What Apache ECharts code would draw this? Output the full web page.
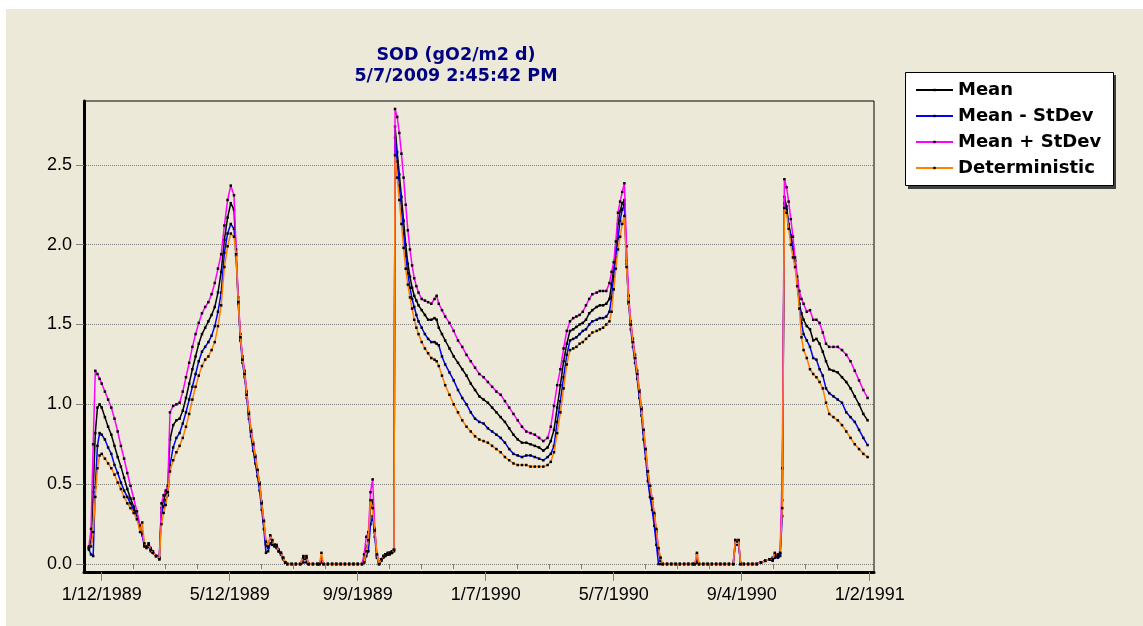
<!DOCTYPE html>
<html><head><meta charset="utf-8">
<script src="https://cdn.jsdelivr.net/npm/echarts@6/dist/echarts.min.js"></script>
<style>html,body{margin:0;padding:0;background:#fff}#c{width:1143px;height:626px}</style>
</head><body><div id="c"></div>
<script>
// Day offsets from 1/12/1989
const days = [
-12,-10,-8,-6,-4,-2,0,3,6,9,
12,15,18,21,24,27,30,33,36,38,
40,42,44,46,48,51,54,56,58,60,
62,64,67,70,73,76,79,82,85,88,
91,94,97,100,103,106,109,112,115,118,
121,124,126,128,130,132,134,136,138,140,
142,144,146,148,150,152,154,156,158,160,
162,164,166,168,170,172,174,178,182,186,
189,192,194,198,202,204,206,208,212,216,
220,224,228,232,236,240,244,246,248,250,
252,254,256,258,260,262,264,266,268,270,
272,274,275,277,279,281,283,285,287,289,
291,293,295,297,300,303,306,309,312,314,
316,319,322,326,330,334,338,342,346,350,
354,358,362,366,370,374,378,382,386,390,
394,398,402,406,410,414,418,421,424,427,
430,433,436,439,442,445,448,451,454,457,
460,464,467,470,473,476,478,480,482,484,
486,488,490,492,494,496,498,500,502,504,
506,508,510,512,514,516,518,520,522,524,
526,530,534,538,542,546,550,554,556,558,
560,564,568,572,576,580,584,588,592,594,
597,599,602,606,610,614,618,622,626,629,
631,634,636,638,640,642,644,646,648,650,
652,654,656,658,661,664,667,670,673,676,
679,682,686,690,694,698,702,706,710,714,
718];
const meanVals = [
0.10,0.14,0.45,0.82,0.98,1.00,0.98,0.92,0.86,0.81,
0.74,0.67,0.61,0.54,0.47,0.41,0.36,0.30,0.24,0.20,
0.12,0.11,0.12,0.09,0.07,0.05,0.04,0.35,0.40,0.44,
0.48,0.78,0.87,0.90,0.91,0.96,1.04,1.13,1.22,1.30,
1.38,1.44,1.48,1.52,1.56,1.61,1.70,1.83,2.03,2.17,
2.26,2.22,1.95,1.65,1.42,1.28,1.19,1.06,0.93,0.82,
0.74,0.66,0.58,0.50,0.38,0.26,0.12,0.10,0.17,0.14,
0.12,0.11,0.08,0.07,0.04,0.01,0,0,0,0,
0.03,0.03,0,0,0,0,0.03,0,0,0,
0,0,0,0,0,0,0,0.02,0.10,0.14,
0.36,0.40,0.20,0.05,0.00,0.02,0.05,0.06,0.06,0.07,
0.07,0.09,2.74,2.58,2.44,2.30,2.15,2.00,1.88,1.80,
1.73,1.68,1.65,1.62,1.59,1.56,1.53,1.53,1.54,1.53,
1.48,1.44,1.40,1.35,1.30,1.26,1.22,1.18,1.13,1.09,
1.05,1.03,1.01,0.98,0.95,0.92,0.89,0.85,0.81,0.78,
0.76,0.76,0.75,0.74,0.73,0.71,0.73,0.77,0.84,0.98,
1.12,1.27,1.38,1.46,1.47,1.485,1.50,1.51,1.53,1.57,
1.59,1.61,1.62,1.62,1.63,1.66,1.75,1.85,1.98,2.13,
2.21,2.26,2.28,1.90,1.65,1.50,1.39,1.29,1.19,1.07,
0.96,0.82,0.70,0.56,0.47,0.39,0.30,0.20,0.08,0.02,
0,0,0,0,0,0,0,0,0,0.03,
0,0,0,0,0,0,0,0,0,0.14,
0.14,0,0,0,0,0,0.01,0.02,0.03,0.03,
0.05,0.05,0.06,0.40,2.30,2.24,2.13,2.06,1.99,1.90,
1.78,1.63,1.57,1.53,1.49,1.47,1.40,1.41,1.38,1.33,
1.27,1.22,1.21,1.20,1.17,1.14,1.10,1.05,1.00,0.94,
0.90];
const minusVals = [
0.09,0.06,0.05,0.48,0.74,0.82,0.81,0.78,0.73,0.69,
0.62,0.57,0.51,0.46,0.42,0.38,0.34,0.30,0.23,0.18,
0.11,0.10,0.11,0.08,0.07,0.05,0.03,0.32,0.36,0.40,
0.43,0.62,0.73,0.79,0.82,0.88,0.95,1.03,1.11,1.19,
1.27,1.33,1.36,1.39,1.43,1.49,1.58,1.70,1.95,2.07,
2.13,2.10,1.93,1.63,1.40,1.26,1.17,1.04,0.91,0.80,
0.71,0.63,0.55,0.46,0.34,0.22,0.07,0.08,0.13,0.12,
0.11,0.10,0.08,0.06,0.03,0.01,0,0,0,0,
0.01,0.01,0,0,0,0,0.01,0,0,0,
0,0,0,0,0,0,0,0.01,0.05,0.08,
0.25,0.30,0.17,0.04,0.00,0.02,0.04,0.05,0.06,0.06,
0.07,0.08,2.67,2.52,2.37,2.22,2.07,1.93,1.82,1.73,
1.66,1.61,1.56,1.52,1.48,1.44,1.41,1.39,1.39,1.38,
1.37,1.30,1.25,1.20,1.15,1.09,1.04,1.00,0.95,0.91,
0.89,0.88,0.85,0.83,0.81,0.79,0.76,0.72,0.69,0.68,
0.67,0.68,0.68,0.67,0.66,0.65,0.67,0.69,0.74,0.89,
1.02,1.17,1.31,1.40,1.41,1.42,1.44,1.46,1.47,1.50,
1.52,1.53,1.54,1.54,1.55,1.58,1.67,1.80,1.92,2.04,
2.15,2.22,2.25,1.88,1.63,1.47,1.36,1.26,1.16,1.04,
0.93,0.78,0.66,0.52,0.42,0.34,0.24,0.12,0.00,0.00,
0,0,0,0,0,0,0,0,0,0.01,
0,0,0,0,0,0,0,0,0,0.12,
0.12,0,0,0,0,0,0.01,0.02,0.03,0.02,
0.04,0.04,0.05,0.30,2.26,2.22,2.12,2.05,1.97,1.90,
1.77,1.63,1.51,1.44,1.40,1.36,1.29,1.28,1.22,1.18,
1.10,1.07,1.05,1.03,1.01,0.95,0.92,0.89,0.84,0.79,
0.745];
const plusVals = [
0.11,0.22,0.75,1.21,1.19,1.16,1.13,1.08,1.03,0.98,
0.91,0.83,0.74,0.66,0.57,0.49,0.41,0.33,0.24,0.19,
0.12,0.11,0.13,0.10,0.08,0.05,0.04,0.38,0.43,0.46,
0.49,0.95,0.99,1.00,1.01,1.08,1.17,1.26,1.36,1.44,
1.51,1.57,1.61,1.64,1.69,1.76,1.85,1.94,2.12,2.28,
2.37,2.31,1.97,1.67,1.44,1.30,1.21,1.08,0.95,0.84,
0.76,0.68,0.59,0.51,0.39,0.27,0.13,0.12,0.17,0.14,
0.12,0.12,0.09,0.07,0.04,0.01,0,0,0,0,
0.05,0.05,0,0,0,0,0.04,0,0,0,
0,0,0,0,0,0,0,0.06,0.17,0.20,
0.45,0.53,0.22,0.06,0.01,0.03,0.05,0.06,0.07,0.07,
0.08,0.09,2.85,2.80,2.70,2.57,2.42,2.25,2.09,1.97,
1.87,1.79,1.74,1.70,1.66,1.65,1.64,1.63,1.66,1.68,
1.63,1.59,1.55,1.51,1.46,1.40,1.36,1.31,1.27,1.23,
1.19,1.17,1.14,1.11,1.08,1.06,1.02,0.98,0.94,0.90,
0.86,0.83,0.82,0.81,0.79,0.77,0.79,0.86,0.99,1.12,
1.22,1.35,1.46,1.52,1.54,1.55,1.56,1.58,1.62,1.66,
1.69,1.70,1.71,1.71,1.71,1.76,1.83,1.89,2.02,2.20,
2.27,2.33,2.385,1.99,1.68,1.52,1.41,1.31,1.21,1.09,
0.98,0.84,0.72,0.58,0.49,0.41,0.31,0.21,0.09,0.02,
0,0,0,0,0,0,0,0,0,0.06,
0,0,0,0,0,0,0,0,0,0.15,
0.15,0,0,0,0,0,0.01,0.02,0.03,0.04,
0.06,0.06,0.07,0.60,2.41,2.36,2.27,2.16,2.05,1.92,
1.80,1.71,1.66,1.63,1.58,1.59,1.53,1.53,1.51,1.45,
1.38,1.36,1.36,1.36,1.34,1.31,1.27,1.21,1.15,1.09,
1.04];
const detVals = [
0.10,0.11,0.20,0.42,0.60,0.68,0.69,0.66,0.63,0.60,
0.56,0.51,0.47,0.42,0.38,0.35,0.32,0.28,0.20,0.26,
0.13,0.11,0.12,0.09,0.07,0.05,0.03,0.25,0.32,0.37,
0.45,0.58,0.65,0.70,0.74,0.79,0.86,0.94,1.03,1.11,
1.18,1.24,1.28,1.30,1.34,1.39,1.49,1.62,1.86,1.99,
2.07,2.05,1.94,1.64,1.42,1.28,1.19,1.06,0.94,0.83,
0.75,0.67,0.59,0.50,0.38,0.27,0.14,0.11,0.18,0.15,
0.12,0.11,0.08,0.07,0.04,0.01,0,0,0,0,
0.04,0.04,0,0,0,0,0.07,0,0,0,
0,0,0,0,0,0,0,0.01,0.08,0.15,
0.40,0.35,0.21,0.06,0.00,0.03,0.05,0.06,0.06,0.07,
0.07,0.09,2.56,2.42,2.28,2.13,1.98,1.85,1.75,1.67,
1.60,1.53,1.48,1.44,1.39,1.35,1.32,1.29,1.28,1.27,
1.24,1.18,1.12,1.06,1.00,0.95,0.90,0.86,0.83,0.80,
0.78,0.77,0.76,0.74,0.72,0.70,0.67,0.65,0.63,0.62,
0.62,0.62,0.61,0.61,0.61,0.61,0.62,0.64,0.70,0.82,
0.95,1.10,1.25,1.34,1.35,1.36,1.38,1.39,1.41,1.43,
1.45,1.46,1.47,1.48,1.50,1.52,1.58,1.72,1.85,1.97,
2.05,2.13,2.18,1.86,1.64,1.50,1.39,1.29,1.19,1.08,
0.97,0.84,0.72,0.58,0.49,0.41,0.32,0.22,0.10,0.04,
0,0,0,0,0,0,0,0,0,0.07,
0,0,0,0,0,0,0,0,0,0.15,
0.15,0,0,0,0,0,0.01,0.02,0.03,0.03,
0.07,0.06,0.07,0.35,2.23,2.20,2.10,2.00,1.92,1.86,
1.74,1.60,1.42,1.34,1.29,1.22,1.19,1.17,1.14,1.10,
1.01,0.94,0.92,0.90,0.87,0.83,0.79,0.75,0.72,0.69,
0.67];
const seriesNames = ['Mean','Mean - StDev','Mean + StDev','Deterministic'];
const tickDays = [0,120,240,360,480,600,720];
const tickLabels = ['1/12/1989','5/12/1989','9/9/1989','1/7/1990','5/7/1990','9/4/1990','1/2/1991'];
const minorDays = [30,60,90,150,180,210,270,300,330,390,420,450,510,540,570,630,660,690];
const yTicks = [0,0.5,1,1.5,2,2.5];

const colors = ['#000000','#0000ff','#ff00ff','#ff8000'];
const valueSets = [meanVals, minusVals, plusVals, detVals];

const chart = echarts.init(document.getElementById('c'), null, {renderer:'canvas'});
const labelFont = {fontFamily:'Liberation Sans, Arial, sans-serif', fontSize:18, color:'#000'};
const option = {
  backgroundColor:'#ffffff',
  animation:false,
  title:{
    text:'SOD (gO2/m2 d)\n5/7/2009 2:45:42 PM',
    left:456, top:45, textAlign:'center', padding:0,
    textStyle:{fontFamily:'DejaVu Sans', fontWeight:'bold', fontSize:17.5, lineHeight:21, color:'#000080'}
  },
  legend:{
    data:seriesNames, orient:'vertical', left:915, top:81, padding:0,
    itemWidth:37, itemHeight:3, itemGap:8, selectedMode:false,
    textStyle:{fontFamily:'DejaVu Sans', fontWeight:'bold', fontSize:18, color:'#000'}
  },
  graphic:[
    {type:'rect', z:-100, silent:true, shape:{x:6,y:9,width:1137,height:617}, style:{fill:'#ECE9D8'}},
    {type:'rect', z:1, silent:true, shape:{x:908,y:75,width:208,height:114}, style:{fill:'#404040'}},
    {type:'rect', z:2, silent:true, shape:{x:905.5,y:72.5,width:208,height:113}, style:{fill:'#ffffff', stroke:'#000', lineWidth:1}}
  ],
  grid:{left:84, top:101, width:790, height:471, show:true, borderColor:'#000', borderWidth:1, backgroundColor:'transparent'},
  xAxis:[
    {type:'value', min:-16.6, max:724, position:'bottom',
     axisLine:{show:true, onZero:false, lineStyle:{color:'#000', width:3}},
     axisTick:{show:true, customValues:tickDays, length:9, lineStyle:{color:'#808080', width:1}},
     axisLabel:Object.assign({customValues:tickDays, margin:14,
       formatter:v=>{const k=tickDays.indexOf(Math.round(v)); return k>=0?tickLabels[k]:'';}}, labelFont),
     splitLine:{show:false}},
    {type:'value', min:-16.6, max:724, position:'bottom',
     axisLine:{show:false},
     axisTick:{show:true, customValues:minorDays, length:5, lineStyle:{color:'#808080', width:1}},
     axisLabel:{show:false}, splitLine:{show:false}}
  ],
  yAxis:{type:'value', min:-0.05, max:2.9,
    axisLine:{show:true, onZero:false, lineStyle:{color:'#000', width:3}},
    axisTick:{show:true, customValues:yTicks, length:8, lineStyle:{color:'#808080', width:1}},
    axisLabel:Object.assign({customValues:yTicks, margin:12, formatter:v=>v.toFixed(1)}, labelFont),
    splitLine:{show:true, lineStyle:{color:'#808080', type:'dotted', width:1}}
  },
  series: seriesNames.map((name,i)=>({
    type:'line', name, xAxisIndex:0, yAxisIndex:0,
    data: days.map((d,j)=>[d, valueSets[i][j]]),
    symbol:'rect', symbolSize:2.5, showSymbol:true, showAllSymbol:true,
    itemStyle:{color:'#000'},
    lineStyle:{color:colors[i], width:1.5},
    emphasis:{disabled:true}, silent:true, z:2+i
  }))
};
chart.setOption(option);
</script></body></html>
